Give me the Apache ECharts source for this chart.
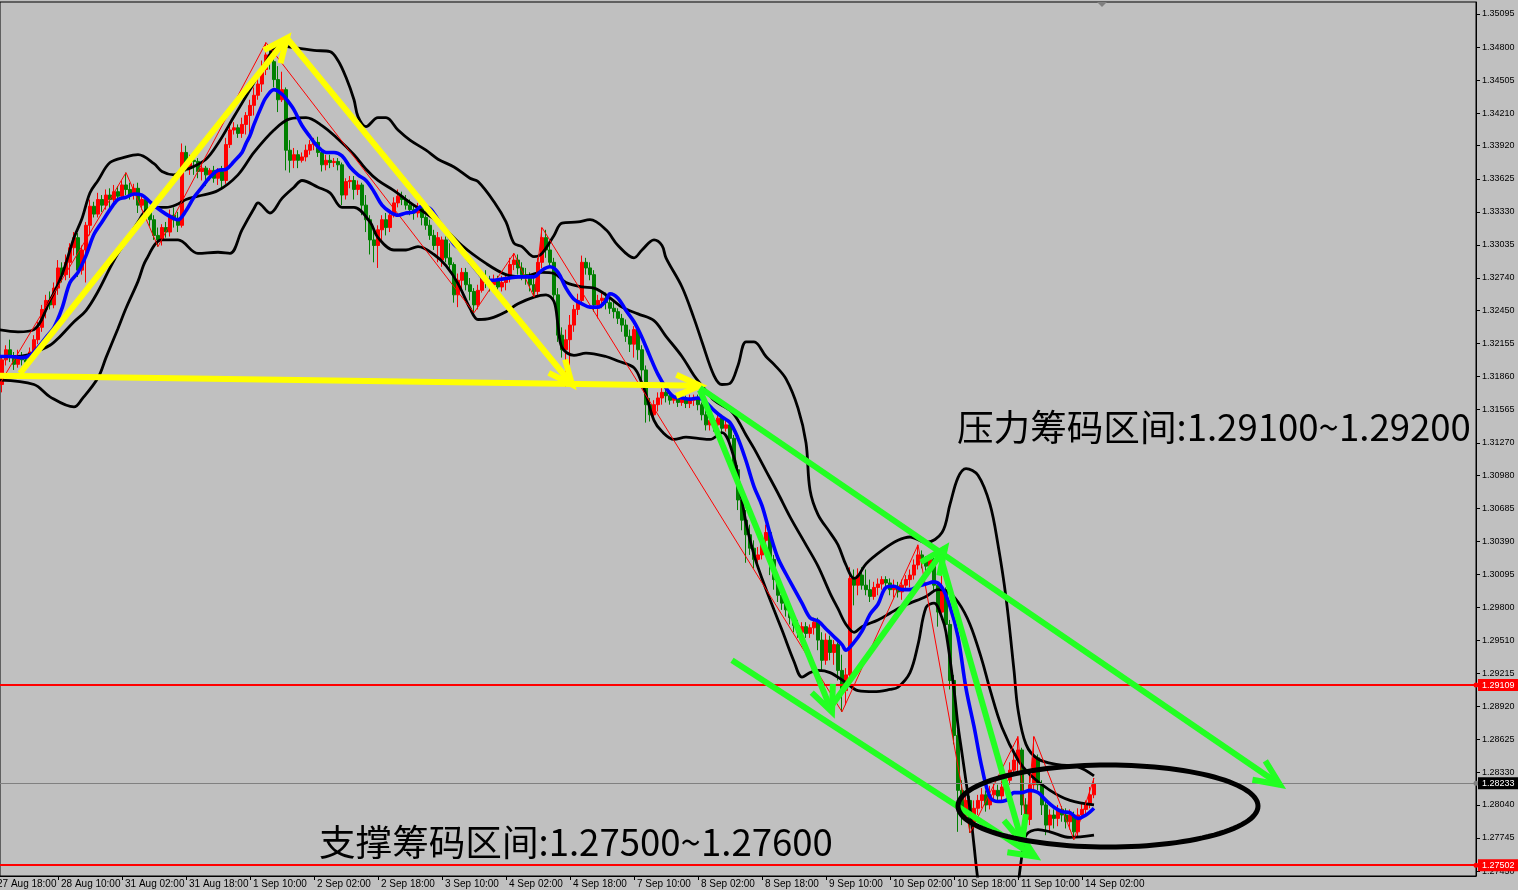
<!DOCTYPE html>
<html><head><meta charset="utf-8">
<script src="https://cdn.jsdelivr.net/npm/echarts@6/dist/echarts.min.js"></script>
<style>html,body{margin:0;padding:0;background:#c0c0c0;}#c{width:1518px;height:890px;}</style>
</head><body><div id="c"></div>
<script>
// ---------- data ----------
const firstVisibleBar = 1.5, lastSlot = 370.5; // bar-index range covered by the plot width (incl. chart-shift space)
const xTickLabels = ["27 Aug 18:00","28 Aug 10:00","31 Aug 02:00","31 Aug 18:00","1 Sep 10:00","2 Sep 02:00","2 Sep 18:00","3 Sep 10:00","4 Sep 02:00","4 Sep 18:00","7 Sep 10:00","8 Sep 02:00","8 Sep 18:00","9 Sep 10:00","10 Sep 02:00","10 Sep 18:00","11 Sep 10:00","14 Sep 02:00"];
const xTickBars = [0,16,32,48,64,80,96,112,128,144,160,176,192,208,224,240,256,272];
const yTickLabels = ["1.35095","1.34800","1.34505","1.34210","1.33920","1.33625","1.33330","1.33035","1.32740","1.32450","1.32155","1.31860","1.31565","1.31270","1.30980","1.30685","1.30390","1.30095","1.29800","1.29510","1.29215","1.28920","1.28625","1.28330","1.28040","1.27745","1.27450"];
const yMin = 1.27406, yMax = 1.35202;

// candles: [open, close, low, high], one per hourly bar from 27 Aug 18:00
const candles = [
[1.3194,1.3199,1.3171,1.3205],[1.3199,1.3190,1.3185,1.3203],[1.3179,1.3201,1.3172,1.3205],[1.3201,1.3210,1.3196,1.3214],[1.3210,1.3203,1.3199,1.3219],
[1.3203,1.3197,1.3192,1.3208],[1.3197,1.3204,1.3194,1.3210],[1.3204,1.3201,1.3196,1.3208],[1.3201,1.3199,1.3192,1.3205],[1.3199,1.3208,1.3196,1.3212],
[1.3208,1.3219,1.3204,1.3223],[1.3219,1.3230,1.3215,1.3235],[1.3230,1.3246,1.3226,1.3250],[1.3246,1.3254,1.3238,1.3259],[1.3254,1.3250,1.3246,1.3262],
[1.3250,1.3265,1.3247,1.3270],[1.3265,1.3283,1.3259,1.3290],[1.3283,1.3277,1.3270,1.3288],[1.3277,1.3288,1.3272,1.3295],[1.3288,1.3301,1.3274,1.3305],
[1.3301,1.3310,1.3294,1.3315],[1.3310,1.3281,1.3275,1.3314],[1.3281,1.3299,1.3277,1.3303],[1.3299,1.3321,1.3270,1.3324],[1.3321,1.3338,1.3312,1.3344],
[1.3338,1.3331,1.3328,1.3342],[1.3331,1.3344,1.3328,1.3350],[1.3344,1.3339,1.3333,1.3348],[1.3339,1.3348,1.3335,1.3353],[1.3348,1.3344,1.3336,1.3354],
[1.3344,1.3351,1.3339,1.3357],[1.3351,1.3347,1.3344,1.3356],[1.3347,1.3357,1.3344,1.3361],[1.3357,1.3353,1.3348,1.3368],[1.3353,1.3348,1.3344,1.3359],
[1.3348,1.3354,1.3344,1.3358],[1.3354,1.3339,1.3332,1.3359],[1.3339,1.3344,1.3335,1.3348],[1.3344,1.3333,1.3328,1.3345],[1.3333,1.3326,1.3320,1.3338],
[1.3326,1.3312,1.3308,1.3330],[1.3312,1.3308,1.3302,1.3319],[1.3308,1.3319,1.3303,1.3322],[1.3319,1.3315,1.3310,1.3324],[1.3315,1.3330,1.3311,1.3335],
[1.3330,1.3326,1.3319,1.3337],[1.3326,1.3321,1.3315,1.3333],[1.3321,1.3386,1.3319,1.3394],[1.3386,1.3372,1.3369,1.3392],[1.3372,1.3379,1.3366,1.3384],
[1.3379,1.3378,1.3366,1.3383],[1.3378,1.3369,1.3363,1.3381],[1.3369,1.3372,1.3361,1.3376],[1.3372,1.3366,1.3356,1.3374],[1.3366,1.3370,1.3361,1.3372],
[1.3370,1.3363,1.3359,1.3374],[1.3363,1.3369,1.3357,1.3372],[1.3369,1.3361,1.3354,1.3374],[1.3361,1.3393,1.3358,1.3399],[1.3393,1.3406,1.3390,1.3413],
[1.3406,1.3408,1.3402,1.3413],[1.3408,1.3403,1.3399,1.3411],[1.3403,1.3411,1.3399,1.3417],[1.3411,1.3419,1.3402,1.3422],[1.3419,1.3428,1.3403,1.3433],
[1.3428,1.3437,1.3419,1.3444],[1.3437,1.3447,1.3433,1.3452],[1.3447,1.3460,1.3440,1.3468],[1.3460,1.3473,1.3455,1.3484],[1.3473,1.3467,1.3460,1.3479],
[1.3467,1.3451,1.3444,1.3472],[1.3451,1.3433,1.3422,1.3463],[1.3433,1.3442,1.3431,1.3458],[1.3442,1.3388,1.3370,1.3444],[1.3388,1.3379,1.3368,1.3397],
[1.3379,1.3384,1.3372,1.3390],[1.3384,1.3379,1.3372,1.3388],[1.3379,1.3382,1.3377,1.3386],[1.3382,1.3388,1.3378,1.3393],[1.3388,1.3393,1.3384,1.3397],
[1.3393,1.3395,1.3388,1.3399],[1.3395,1.3386,1.3382,1.3400],[1.3386,1.3375,1.3369,1.3390],[1.3375,1.3379,1.3370,1.3384],[1.3379,1.3377,1.3372,1.3384],
[1.3377,1.3378,1.3373,1.3381],[1.3378,1.3375,1.3370,1.3381],[1.3375,1.3348,1.3339,1.3377],[1.3348,1.3360,1.3344,1.3363],[1.3360,1.3361,1.3354,1.3365],
[1.3361,1.3353,1.3344,1.3365],[1.3353,1.3357,1.3348,1.3361],[1.3357,1.3339,1.3330,1.3359],[1.3339,1.3326,1.3315,1.3348],[1.3326,1.3308,1.3295,1.3330],
[1.3308,1.3303,1.3288,1.3319],[1.3303,1.3317,1.3283,1.3321],[1.3317,1.3326,1.3308,1.3330],[1.3326,1.3319,1.3312,1.3332],[1.3319,1.3330,1.3315,1.3335],
[1.3330,1.3341,1.3328,1.3346],[1.3341,1.3347,1.3337,1.3353],[1.3347,1.3344,1.3339,1.3351],[1.3344,1.3339,1.3335,1.3348],[1.3339,1.3335,1.3330,1.3344],
[1.3335,1.3332,1.3326,1.3339],[1.3332,1.3336,1.3328,1.3341],[1.3336,1.3328,1.3321,1.3339],[1.3328,1.3321,1.3317,1.3330],[1.3321,1.3312,1.3308,1.3326],
[1.3312,1.3303,1.3299,1.3317],[1.3303,1.3310,1.3288,1.3315],[1.3290,1.3308,1.3284,1.3311],[1.3308,1.3292,1.3288,1.3311],[1.3292,1.3286,1.3281,1.3305],
[1.3286,1.3259,1.3252,1.3288],[1.3259,1.3272,1.3248,1.3278],[1.3272,1.3279,1.3263,1.3283],[1.3279,1.3268,1.3263,1.3283],[1.3268,1.3262,1.3254,1.3274],
[1.3262,1.3250,1.3243,1.3265],[1.3250,1.3263,1.3246,1.3268],[1.3263,1.3274,1.3261,1.3279],[1.3274,1.3270,1.3265,1.3281],[1.3270,1.3268,1.3262,1.3276],
[1.3268,1.3272,1.3263,1.3277],[1.3272,1.3266,1.3262,1.3276],[1.3266,1.3270,1.3262,1.3276],[1.3270,1.3274,1.3263,1.3278],[1.3274,1.3286,1.3270,1.3292],
[1.3286,1.3290,1.3281,1.3296],[1.3290,1.3283,1.3277,1.3295],[1.3283,1.3277,1.3272,1.3288],[1.3277,1.3274,1.3268,1.3283],[1.3274,1.3268,1.3262,1.3279],
[1.3268,1.3262,1.3257,1.3274],[1.3262,1.3288,1.3257,1.3292],[1.3288,1.3310,1.3283,1.3319],[1.3310,1.3299,1.3292,1.3317],[1.3299,1.3288,1.3283,1.3305],
[1.3288,1.3259,1.3254,1.3292],[1.3259,1.3223,1.3217,1.3265],[1.3223,1.3210,1.3203,1.3230],[1.3210,1.3219,1.3177,1.3228],[1.3219,1.3232,1.3196,1.3241],
[1.3232,1.3246,1.3226,1.3250],[1.3246,1.3254,1.3241,1.3260],[1.3254,1.3288,1.3250,1.3294],[1.3288,1.3283,1.3277,1.3292],[1.3283,1.3277,1.3272,1.3288],
[1.3277,1.3250,1.3244,1.3281],[1.3250,1.3254,1.3238,1.3259],[1.3254,1.3256,1.3247,1.3262],[1.3256,1.3252,1.3246,1.3261],[1.3252,1.3247,1.3242,1.3256],
[1.3247,1.3244,1.3238,1.3253],[1.3244,1.3238,1.3233,1.3247],[1.3238,1.3232,1.3226,1.3242],[1.3232,1.3222,1.3217,1.3237],[1.3222,1.3215,1.3208,1.3228],
[1.3215,1.3228,1.3203,1.3231],[1.3228,1.3210,1.3201,1.3231],[1.3210,1.3192,1.3183,1.3214],[1.3192,1.3161,1.3145,1.3196],[1.3161,1.3152,1.3146,1.3167],
[1.3152,1.3161,1.3149,1.3165],[1.3161,1.3167,1.3155,1.3172],[1.3167,1.3172,1.3161,1.3176],[1.3172,1.3169,1.3163,1.3176],[1.3169,1.3165,1.3161,1.3172],
[1.3165,1.3167,1.3162,1.3170],[1.3167,1.3163,1.3159,1.3170],[1.3163,1.3166,1.3160,1.3169],[1.3166,1.3162,1.3158,1.3169],[1.3162,1.3165,1.3158,1.3170],
[1.3165,1.3167,1.3160,1.3170],[1.3167,1.3161,1.3156,1.3170],[1.3161,1.3152,1.3147,1.3163],[1.3152,1.3143,1.3138,1.3156],[1.3143,1.3147,1.3138,1.3152],
[1.3147,1.3143,1.3137,1.3151],[1.3143,1.3149,1.3138,1.3153],[1.3149,1.3140,1.3135,1.3152],[1.3140,1.3143,1.3137,1.3147],[1.3143,1.3131,1.3125,1.3146],
[1.3131,1.3103,1.3096,1.3134],[1.3103,1.3076,1.3067,1.3107],[1.3076,1.3058,1.3049,1.3085],[1.3058,1.3045,1.3020,1.3067],[1.3045,1.3033,1.3027,1.3054],
[1.3033,1.3023,1.3015,1.3040],[1.3023,1.3027,1.3018,1.3034],[1.3027,1.3040,1.3023,1.3045],[1.3040,1.3047,1.3036,1.3054],[1.3047,1.3023,1.3009,1.3051],
[1.3023,1.3005,1.2996,1.3027],[1.3005,1.2991,1.2985,1.3009],[1.2991,1.2984,1.2978,1.2998],[1.2984,1.2978,1.2972,1.2990],[1.2978,1.2971,1.2965,1.2983],
[1.2971,1.2964,1.2958,1.2976],[1.2964,1.2958,1.2953,1.2969],[1.2958,1.2963,1.2955,1.2967],[1.2963,1.2957,1.2953,1.2967],[1.2957,1.2962,1.2953,1.2965],
[1.2962,1.2967,1.2956,1.2971],[1.2967,1.2951,1.2942,1.2971],[1.2951,1.2933,1.2923,1.2958],[1.2933,1.2951,1.2929,1.2957],[1.2951,1.2940,1.2933,1.2955],
[1.2940,1.2947,1.2929,1.2951],[1.2947,1.2924,1.2915,1.2949],[1.2924,1.2906,1.2887,1.2938],[1.2906,1.2920,1.2893,1.2926],[1.2920,1.3006,1.2914,1.3016],
[1.3006,1.3000,1.2982,1.3014],[1.3000,1.3009,1.2991,1.3015],[1.3009,1.3000,1.2996,1.3016],[1.3000,1.2996,1.2991,1.3014],[1.2996,1.2990,1.2985,1.3005],
[1.2990,1.2998,1.2987,1.3003],[1.2998,1.3001,1.2991,1.3006],[1.3001,1.3005,1.2996,1.3008],[1.3005,1.3002,1.2998,1.3008],[1.3002,1.2996,1.2991,1.3006],
[1.2996,1.2999,1.2989,1.3005],[1.2999,1.2994,1.2989,1.3003],[1.2994,1.3000,1.2987,1.3005],[1.3000,1.3005,1.2996,1.3009],[1.3005,1.3009,1.2998,1.3014],
[1.3009,1.3018,1.3005,1.3023],[1.3018,1.3027,1.3014,1.3036],[1.3027,1.3023,1.3015,1.3031],[1.3023,1.3017,1.3012,1.3026],[1.3017,1.3023,1.3012,1.3027],
[1.3023,1.3000,1.2994,1.3026],[1.3000,1.2976,1.2963,1.3003],[1.2976,1.2996,1.2969,1.3009],[1.2996,1.2965,1.2958,1.2998],[1.2965,1.2915,1.2907,1.2969],
[1.2915,1.2866,1.2858,1.2920],[1.2866,1.2817,1.2780,1.2871],[1.2817,1.2795,1.2786,1.2826],[1.2795,1.2808,1.2789,1.2815],[1.2808,1.2789,1.2779,1.2812],
[1.2789,1.2801,1.2782,1.2808],[1.2801,1.2808,1.2795,1.2813],[1.2808,1.2813,1.2801,1.2819],[1.2813,1.2804,1.2798,1.2817],[1.2804,1.2813,1.2800,1.2821],
[1.2813,1.2817,1.2808,1.2823],[1.2817,1.2812,1.2807,1.2822],[1.2812,1.2820,1.2808,1.2826],[1.2820,1.2826,1.2816,1.2832],[1.2826,1.2835,1.2822,1.2842],
[1.2835,1.2844,1.2831,1.2851],[1.2844,1.2853,1.2831,1.2865],[1.2853,1.2804,1.2795,1.2855],[1.2804,1.2791,1.2783,1.2810],[1.2791,1.2822,1.2786,1.2831],
[1.2822,1.2846,1.2817,1.2865],[1.2846,1.2822,1.2817,1.2849],[1.2822,1.2804,1.2795,1.2826],[1.2804,1.2786,1.2777,1.2808],[1.2786,1.2795,1.2780,1.2800],
[1.2795,1.2792,1.2783,1.2800],[1.2792,1.2800,1.2785,1.2804],[1.2800,1.2795,1.2789,1.2803],[1.2795,1.2789,1.2783,1.2801],[1.2789,1.2795,1.2782,1.2800],
[1.2795,1.2780,1.2773,1.2798],[1.2780,1.2795,1.2775,1.2801],[1.2795,1.2800,1.2791,1.2806],[1.2800,1.2804,1.2794,1.2808],[1.2804,1.2813,1.2801,1.2820],
[1.2813,1.2823,1.2810,1.2828]
];

// indicator lines: [bar index, price]
const maLine = [[1,1.3204],[4,1.3204],[7,1.3203],[9,1.3205],[11,1.3212],[13,1.3221],[15,1.3230],[17,1.3247],[19,1.3270],[21,1.3279],[23,1.3294],[25,1.3313],[27,1.3324],[29,1.3335],[31,1.3344],[33,1.3346],[35,1.3349],[37,1.3348],[39,1.3342],[41,1.3336],[43,1.3331],[45,1.3327],[46,1.3326],[48,1.3334],[50,1.3346],[52,1.3355],[54,1.3364],[56,1.3370],[58,1.3371],[60,1.3378],[62,1.3386],[63,1.3394],[64,1.3401],[65,1.3411],[67,1.3428],[68,1.3435],[70,1.3442],[72,1.3438],[73,1.3434],[75,1.3424],[77,1.3410],[79,1.3400],[81,1.3391],[83,1.3386],[85,1.3386],[87,1.3383],[89,1.3373],[91,1.3366],[93,1.3361],[95,1.3351],[97,1.3339],[99,1.3333],[101,1.3330],[103,1.3332],[105,1.3333],[107,1.3338],[109,1.3336],[111,1.3326],[113,1.3315],[115,1.3304],[117,1.3298],[119,1.3288],[121,1.3279],[123,1.3272],[125,1.3272],[127,1.3273],[129,1.3274],[131,1.3275],[133,1.3275],[135,1.3275],[137,1.3281],[139,1.3284],[141,1.3279],[143,1.3265],[145,1.3255],[147,1.3251],[149,1.3248],[151,1.3248],[153,1.3254],[154,1.3260],[156,1.3256],[158,1.3245],[160,1.3235],[162,1.3221],[164,1.3204],[166,1.3188],[168,1.3176],[170,1.3168],[172,1.3167],[174,1.3166],[176,1.3167],[178,1.3163],[180,1.3156],[182,1.3150],[184,1.3145],[186,1.3131],[188,1.3111],[190,1.3088],[192,1.3071],[194,1.3046],[196,1.3024],[198,1.3010],[200,1.2997],[202,1.2984],[204,1.2971],[206,1.2968],[208,1.2961],[210,1.2954],[212,1.2947],[213,1.2942],[215,1.2949],[217,1.2959],[219,1.2974],[221,1.2983],[223,1.2998],[225,1.2999],[227,1.2996],[229,1.2996],[231,1.2999],[233,1.3001],[235,1.3003],[237,1.2998],[239,1.2981],[241,1.2954],[243,1.2908],[245,1.2874],[247,1.2837],[249,1.2811],[251,1.2807],[253,1.2808],[255,1.2815],[257,1.2815],[259,1.2817],[261,1.2815],[263,1.2808],[265,1.2802],[267,1.2798],[269,1.2797],[271,1.2792],[273,1.2795],[275,1.2801]];

const bbUpper = [[1,1.3228],[6,1.3226],[10,1.3228],[14,1.3254],[17,1.3277],[20,1.3310],[22,1.3327],[24,1.3350],[26,1.3361],[29,1.3377],[33,1.3382],[36,1.3384],[40,1.3376],[42,1.3369],[45,1.3366],[47,1.3370],[49,1.3372],[53,1.3380],[56,1.3394],[60,1.3418],[64,1.3442],[68,1.3467],[71,1.3481],[76,1.3479],[80,1.3477],[84,1.3476],[86,1.3468],[88,1.3453],[90,1.3433],[91,1.3418],[93,1.3409],[96,1.3417],[98,1.3417],[101,1.3406],[104,1.3397],[108,1.3388],[111,1.3380],[115,1.3373],[119,1.3363],[121,1.3360],[125,1.3342],[128,1.3324],[130,1.3305],[132,1.3302],[135,1.3293],[137,1.3296],[140,1.3312],[142,1.3323],[146,1.3324],[149,1.3326],[153,1.3317],[156,1.3303],[160,1.3292],[162,1.3299],[165,1.3308],[167,1.3303],[168,1.3292],[172,1.3266],[175,1.3238],[177,1.3217],[180,1.3187],[182,1.3179],[184,1.3180],[186,1.3196],[188,1.3217],[190,1.3217],[193,1.3204],[195,1.3197],[198,1.3184],[201,1.3158],[203,1.3127],[204,1.3085],[206,1.3063],[209,1.3047],[211,1.3036],[213,1.3018],[215,1.3006],[216,1.3008],[218,1.3019],[222,1.3031],[226,1.3040],[229,1.3043],[233,1.3038],[237,1.3047],[239,1.3072],[241,1.3096],[243,1.3104],[246,1.3098],[249,1.3072],[251,1.3036],[253,1.2989],[255,1.2924],[256,1.2889],[258,1.2858],[261,1.2845],[266,1.2840],[271,1.2838],[275,1.2830]];

const bbMiddle = [[1,1.3204],[5,1.3204],[9,1.3206],[11,1.3209],[14,1.3214],[16,1.3220],[20,1.3235],[23,1.3245],[26,1.3262],[29,1.3283],[31,1.3296],[33,1.3307],[36,1.3324],[38,1.3334],[41,1.3337],[43,1.3337],[46,1.3340],[48,1.3344],[51,1.3347],[56,1.3352],[61,1.3366],[65,1.3386],[70,1.3406],[74,1.3416],[78,1.3417],[82,1.3410],[86,1.3398],[90,1.3384],[93,1.3371],[96,1.3361],[100,1.3352],[103,1.3344],[107,1.3334],[111,1.3324],[117,1.3303],[123,1.3287],[128,1.3277],[132,1.3275],[137,1.3279],[140,1.3278],[143,1.3270],[147,1.3266],[150,1.3265],[153,1.3259],[157,1.3248],[161,1.3242],[165,1.3236],[168,1.3222],[172,1.3204],[175,1.3187],[177,1.3178],[180,1.3165],[184,1.3156],[186,1.3147],[188,1.3134],[190,1.3122],[193,1.3102],[196,1.3082],[199,1.3061],[203,1.3036],[206,1.3017],[209,1.2993],[211,1.2979],[213,1.2965],[215,1.2958],[217,1.2963],[221,1.2969],[224,1.2975],[227,1.2981],[229,1.2984],[233,1.2990],[236,1.2996],[238,1.2995],[241,1.2985],[244,1.2965],[247,1.2933],[249,1.2907],[252,1.2873],[256,1.2844],[259,1.2831],[264,1.2817],[269,1.2808],[275,1.2804]];

const bbLower = [[1,1.3183],[10,1.3179],[14,1.3168],[20,1.3159],[22,1.3166],[26,1.3185],[28,1.3203],[31,1.3229],[33,1.3247],[36,1.3271],[38,1.3290],[42,1.3308],[46,1.3308],[51,1.3296],[56,1.3297],[59,1.3296],[62,1.3317],[65,1.3336],[66,1.3341],[69,1.3332],[72,1.3345],[75,1.3355],[77,1.3361],[81,1.3355],[84,1.3350],[87,1.3337],[90,1.3337],[94,1.3324],[96,1.3310],[100,1.3299],[103,1.3299],[106,1.3302],[110,1.3295],[113,1.3285],[116,1.3269],[119,1.3247],[121,1.3237],[124,1.3238],[128,1.3244],[131,1.3251],[135,1.3257],[138,1.3259],[140,1.3253],[141,1.3232],[142,1.3212],[145,1.3205],[148,1.3207],[153,1.3204],[156,1.3200],[160,1.3194],[162,1.3180],[163,1.3170],[165,1.3147],[167,1.3137],[170,1.3130],[173,1.3132],[176,1.3131],[179,1.3130],[182,1.3136],[185,1.3114],[186,1.3096],[188,1.3056],[190,1.3027],[192,1.3006],[195,1.2978],[197,1.2960],[200,1.2932],[202,1.2918],[204,1.2922],[206,1.2924],[209,1.2922],[213,1.2913],[216,1.2906],[220,1.2905],[224,1.2907],[226,1.2909],[229,1.2922],[231,1.2947],[233,1.2980],[235,1.2984],[237,1.2971],[238,1.2958],[240,1.2907],[241,1.2875],[242,1.2850],[243,1.2825],[244,1.2800],[245,1.2768],[246,1.2737],[248,1.2701],[251,1.2679],[254,1.2688],[256,1.2733],[257,1.2759],[258,1.2777],[261,1.2782],[264,1.2780],[269,1.2775],[275,1.2777]];

const zigzag = [[0,1.3171],[33,1.3368],[41,1.3302],[68,1.3484],[120,1.3243],[130,1.3296],[135,1.3257],[137,1.3319],[212,1.2887],[231,1.3036],[244,1.2779],[256,1.2865],[258,1.2783],[260,1.2865],[270,1.2773],[275,1.2828]];

const levelLines = [1.29109, 1.27502];
const currentPrice = 1.28233;

// hand-drawn annotations: [fromBar, fromPrice, toBar, toPrice]
const yellowArrows = [[6.5,1.3189,73.25,1.3488],[73.25,1.3488,144.5,1.3179],[0,1.3187,176.5,1.3178]];
const greenArrows = [[176.5,1.3176,321.5,1.2822],[176.5,1.3174,209.5,1.2887],[209.5,1.2893,237.75,1.3033],[236.5,1.3027,257,1.2771],[184.5,1.2933,260.25,1.2758]];
// ellipse: [centerBar, centerPrice, halfWidthBars, halfHeightPrice]
const ellipses = [[278.5,1.2803,37.5,0.00366]];
const notes = ['压力筹码区间:1.29100~1.29200','支撑筹码区间:1.27500~1.27600'];

// ---------- chart ----------
const candleData = candles.map((c, i) => [i, c[0], c[1], c[2], c[3]]);
const yTicks = yTickLabels.map(Number);
const labelFont = 'Liberation Sans';

function arrowRender(color, width, head) {
  return function (params, api) {
    const a = api.coord([api.value(0), api.value(1)]);
    const b = api.coord([api.value(2), api.value(3)]);
    const ang = Math.atan2(b[1] - a[1], b[0] - a[0]);
    const sp = 0.42;
    const p1 = [b[0] - head * Math.cos(ang - sp), b[1] - head * Math.sin(ang - sp)];
    const p2 = [b[0] - head * Math.cos(ang + sp), b[1] - head * Math.sin(ang + sp)];
    return {type: 'group', children: [
      {type: 'line', shape: {x1: a[0], y1: a[1], x2: b[0], y2: b[1]}, style: {stroke: color, lineWidth: width}},
      {type: 'polyline', shape: {points: [p1, b, p2]}, style: {stroke: color, lineWidth: width, fill: null, lineJoin: 'miter'}}
    ]};
  };
}
const levelLabel = (bg) => ({show: true, position: 'end', distance: 2, formatter: p => p.value.toFixed(5),
  color: '#fff', backgroundColor: bg, padding: [2, 4, 1, 4], fontSize: 9, fontFamily: labelFont});

const chart = echarts.init(document.getElementById('c'), null, {renderer: 'canvas'});
chart.setOption({
  animation: false,
  backgroundColor: '#c0c0c0',
  grid: {left: 0, right: 42, top: 2, bottom: 14, show: true, borderColor: '#000', borderWidth: 1, backgroundColor: 'transparent'},
  xAxis: {type: 'value', min: firstVisibleBar, max: lastSlot,
    splitLine: {show: false},
    axisLine: {show: true, onZero: false, lineStyle: {color: '#000', width: 1}},
    axisTick: {show: true, customValues: xTickBars, length: 4, lineStyle: {color: '#000'}},
    axisLabel: {customValues: xTickBars, formatter: v => xTickLabels[xTickBars.indexOf(Math.round(v))] || '',
      align: 'left', margin: 3, padding: [0, 0, 0, 3], color: '#000', fontSize: 10, fontFamily: labelFont}},
  yAxis: {type: 'value', position: 'right', min: yMin, max: yMax,
    splitLine: {show: false},
    axisLine: {show: true, onZero: false, lineStyle: {color: '#000', width: 1}},
    axisTick: {show: true, customValues: yTicks, length: 4, lineStyle: {color: '#000'}},
    axisLabel: {customValues: yTicks, formatter: v => v.toFixed(5), color: '#000', fontSize: 9, fontFamily: labelFont, margin: 6}},
  series: [
    {type: 'candlestick', data: candleData, barWidth: 3, z: 2,
     encode: {x: 0, y: [1, 2, 3, 4]},
     itemStyle: {color: '#ff0000', color0: '#008000', borderColor: '#ff0000', borderColor0: '#008000', borderWidth: 1},
     markLine: {silent: true, precision: 5, symbol: ['none', 'circle'], symbolSize: 5, z: 5,
       data: [
         {yAxis: levelLines[0], lineStyle: {color: '#ff0000', width: 2, type: 'solid'}, itemStyle: {color: '#ff0000'}, label: levelLabel('#ff0000')},
         {yAxis: levelLines[1], lineStyle: {color: '#ff0000', width: 2, type: 'solid'}, itemStyle: {color: '#ff0000'}, label: levelLabel('#ff0000')},
         {yAxis: currentPrice, symbol: 'none', lineStyle: {color: '#808080', width: 1, type: 'solid'}, label: levelLabel('#000')}
       ]}},
    {type: 'line', data: bbUpper, smooth: 0.35, symbol: 'none', z: 3, lineStyle: {color: '#000', width: 2.8}},
    {type: 'line', data: bbMiddle, smooth: 0.35, symbol: 'none', z: 3, lineStyle: {color: '#000', width: 2.8}},
    {type: 'line', data: bbLower, smooth: 0.35, symbol: 'none', z: 3, lineStyle: {color: '#000', width: 2.8}},
    {type: 'line', data: zigzag, symbol: 'none', z: 3, lineStyle: {color: '#ff0000', width: 1}},
    {type: 'line', data: maLine, smooth: 0.35, symbol: 'none', z: 4, lineStyle: {color: '#0000ff', width: 3.6}},
    {type: 'custom', data: yellowArrows, z: 6, encode: {x: [0, 2], y: [1, 3]}, renderItem: arrowRender('#ffff00', 6, 26)},
    {type: 'custom', data: greenArrows, z: 6, encode: {x: [0, 2], y: [1, 3]}, renderItem: arrowRender('#22ff22', 6, 28)},
    {type: 'custom', data: ellipses, z: 7, encode: {x: 0, y: 1},
     renderItem: function (params, api) {
       const c = api.coord([api.value(0), api.value(1)]);
       const e = api.coord([api.value(0) + api.value(2), api.value(1) - api.value(3)]);
       const rx = Math.abs(e[0] - c[0]), ry = Math.abs(e[1] - c[1]);
       const pts = [];
       for (let i = 0; i < 120; i++) { const t = i / 120 * 2 * Math.PI; pts.push([c[0] + rx * Math.cos(t), c[1] + ry * Math.sin(t)]); }
       return {type: 'polygon', shape: {points: pts}, style: {fill: null, stroke: '#000', lineWidth: 5}};
     }}
  ]
});
// first tick label sits left of the plot edge and is cut off, as in the original;
// chart-shift marker sits just after the last bar
const firstTickX = chart.convertToPixel({xAxisIndex: 0}, xTickBars[0]);
const shiftX = chart.convertToPixel({xAxisIndex: 0}, candles.length + 1);
chart.setOption({graphic: [
  {type: 'text', left: 957, top: 409, z: 10, style: {text: notes[0], font: '36.6px "Noto Sans CJK SC"', fill: '#000'}},
  {type: 'text', left: 319, top: 824, z: 10, style: {text: notes[1], font: '36.6px "Noto Sans CJK SC"', fill: '#000'}},
  {type: 'text', x: firstTickX + 3, y: 879, z: 10, style: {text: xTickLabels[0], font: '10px "' + labelFont + '"', fill: '#000'}},
  {type: 'polygon', z: 10, shape: {points: [[shiftX - 5, 2], [shiftX + 5, 2], [shiftX, 7]]}, style: {fill: '#808080'}}
]});
</script>
</body></html>
